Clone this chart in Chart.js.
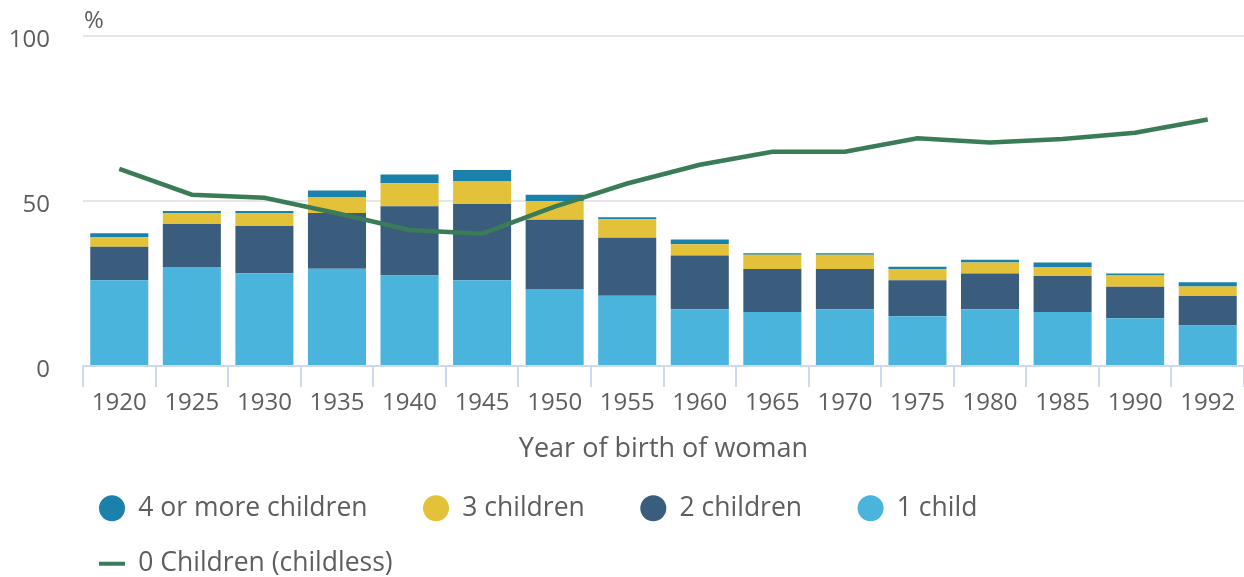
<!DOCTYPE html>
<html>
<head>
<meta charset="utf-8">
<script src="https://cdn.jsdelivr.net/npm/chart.js@4"></script>
<style>
  html, body { margin: 0; padding: 0; background: #fff; }
  #wrap { width: 1244px; height: 577px; }
</style>
</head>
<body>
<div id="wrap"><canvas id="chart"></canvas></div>
<script>
// Share of women by number of children, by year of birth
const years = ['1920', '1925', '1930', '1935', '1940', '1945', '1950', '1955',
               '1960', '1965', '1970', '1975', '1980', '1985', '1990', '1992'];
const oneChild = [26.0, 30.0, 28.1, 29.5, 27.4, 26.0, 23.3, 21.3, 17.2, 16.4, 17.2, 15.1, 17.2, 16.4, 14.5, 12.3];
const twoChildren = [10.1, 13.0, 14.3, 16.9, 21.0, 23.1, 21.0, 17.6, 16.3, 13.0, 12.2, 10.9, 10.8, 10.9, 9.5, 8.9];
const threeChildren = [2.9, 3.4, 4.0, 4.8, 7.0, 6.8, 5.7, 5.6, 3.4, 4.3, 4.3, 3.4, 3.4, 2.7, 3.4, 2.9];
const fourPlus = [1.2, 0.6, 0.6, 2.0, 2.6, 3.5, 1.9, 0.6, 1.4, 0.5, 0.5, 0.7, 0.8, 1.4, 0.6, 1.3];
const childless = [59.7, 51.9, 51.0, 46.3, 41.2, 40.1, 48.3, 55.3, 61.0, 64.9, 64.9, 69.0, 67.7, 68.8, 70.7, 74.7];
const yTicks = [0, 50, 100];

const textColor = '#5e5e5e';
const fontFamily = '"Open Sans", "Noto Sans", sans-serif';

// "%" unit label above the y axis, plus a nudge for the legend block
const extras = {
  id: 'extras',
  afterLayout(chart) {
    const lg = chart.legend;
    lg.left = chart.chartArea.left - 13;
    lg.top += 10;
    lg.bottom += 10;
  },
  afterDraw(chart) {
    const ctx = chart.ctx;
    ctx.save();
    ctx.font = '24px ' + fontFamily;
    ctx.fillStyle = textColor;
    ctx.textBaseline = 'middle';
    ctx.textAlign = 'left';
    ctx.fillText('%', chart.chartArea.left + 1, chart.chartArea.top - 15);
    ctx.restore();
  }
};

function bar(label, data, color) {
  return { type: 'bar', label, data, backgroundColor: color, borderWidth: 0, stack: 'kids' };
}

new Chart(document.getElementById('chart'), {
  data: {
    labels: years,
    datasets: [
      {
        type: 'line', label: '0 Children (childless)', data: childless,
        borderColor: '#3a7b58', backgroundColor: '#3a7b58', borderWidth: 4.5,
        pointRadius: 0, tension: 0, stack: 'line', pointStyle: 'line'
      },
      bar('1 child', oneChild, '#4ab4dc'),
      bar('2 children', twoChildren, '#3a5d7d'),
      bar('3 children', threeChildren, '#e3c138'),
      bar('4 or more children', fourPlus, '#1a82aa')
    ]
  },
  options: {
    responsive: true,
    maintainAspectRatio: false,
    animation: false,
    layout: { padding: { top: 36, left: 9, right: 0, bottom: 0 } },
    datasets: { bar: { barPercentage: 0.8, categoryPercentage: 1.0 } },
    scales: {
      x: {
        stacked: true,
        offset: true,
        afterFit(axis) { axis.height = 90; },
        grid: { display: true, drawOnChartArea: false, drawTicks: true, tickLength: 21, color: '#cfd9ed', lineWidth: 2, offset: true },
        border: { display: true, color: '#cfd9ed', width: 2 },
        ticks: { color: textColor, font: { family: fontFamily, size: 24 }, padding: 2, maxRotation: 0, autoSkip: false },
        title: { display: true, text: 'Year of birth of woman', color: textColor, font: { family: fontFamily, size: 27 }, padding: { top: 0, bottom: -10 } }
      },
      y: {
        stacked: true,
        min: 0,
        max: 100,
        afterBuildTicks(axis) { axis.ticks = yTicks.map(v => ({ value: v })); },
        afterFit(axis) { axis.width = 74; },
        // invisible tick marks give the gap between labels and plot
        grid: { color: '#e6e6e6', lineWidth: 2, drawTicks: true, tickLength: 31, tickColor: 'rgba(0,0,0,0)' },
        border: { display: false },
        ticks: { color: textColor, font: { family: fontFamily, size: 24 }, padding: 2, labelOffset: 4 }
      }
    },
    plugins: {
      legend: {
        position: 'bottom',
        align: 'start',
        reverse: true,
        labels: {
          color: textColor,
          font: { family: fontFamily, size: 26.5 },
          usePointStyle: true,
          pointStyleWidth: 26,
          boxHeight: 18.4,
          padding: 29,
          generateLabels(chart) {
            const items = Chart.defaults.plugins.legend.labels.generateLabels(chart);
            return items.map(it => {
              const ds = chart.data.datasets[it.datasetIndex];
              it.pointStyle = ds.type === 'line' ? 'line' : 'circle';
              it.lineWidth = ds.type === 'line' ? 4 : 0;
              it.strokeStyle = ds.borderColor || ds.backgroundColor;
              if (ds.type !== 'line') it.text = it.text + '\u2002\u2002';
              return it;
            });
          }
        }
      },
      tooltip: { enabled: false }
    }
  },
  plugins: [extras]
});
</script>
</body>
</html>
